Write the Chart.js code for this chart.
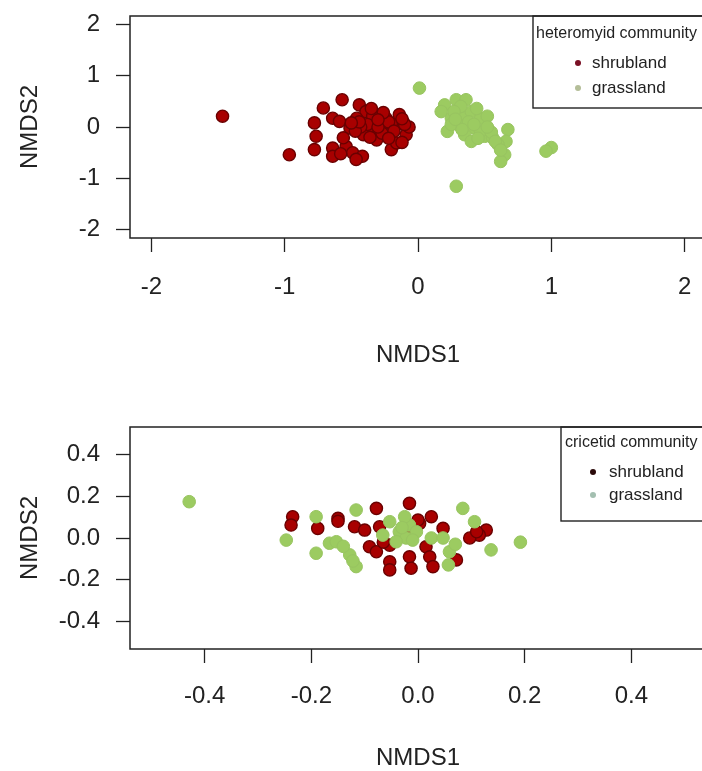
<!DOCTYPE html>
<html><head><meta charset="utf-8">
<script src="https://cdn.jsdelivr.net/npm/chart.js@4"></script>
<style>
html,body{margin:0;padding:0;background:#fff;overflow:hidden;width:702px;height:771px}
#wrap{position:relative;width:702px;height:771px;overflow:hidden;background:#fff}
canvas{position:absolute;left:0}
#c1{top:0}
#c2{top:395px}
</style></head>
<body><div id="wrap"><canvas id="c1" width="720" height="390"></canvas><canvas id="c2" width="720" height="380"></canvas></div>
<script>
// ---- Data: heteromyid community (top panel) ----
const hetShrubX = [-1.466,-0.965,-0.777,-0.764,-0.777,-0.71,-0.569,-0.64,-0.64,-0.539,-0.49,-0.417,-0.464,-0.64,-0.589,-0.44,-0.114,-0.089,-0.20,-0.16,-0.34,-0.29,-0.39,-0.24,-0.14,-0.51,-0.46,-0.41,-0.34,-0.24,-0.16,-0.56,-0.31,-0.067,-0.12,-0.38,-0.43,-0.27,-0.20,-0.35,-0.47,-0.58,-0.10,-0.30,-0.22,-0.18,-0.36,-0.44,-0.26,-0.12,-0.30,-0.22,-0.50];
const hetShrubY = [0.21,-0.54,0.08,-0.18,-0.44,0.37,0.53,-0.41,-0.57,-0.38,-0.50,-0.57,-0.63,0.17,0.11,0.43,0.11,-0.15,-0.44,-0.31,-0.085,0.08,0.30,-0.02,0.24,-0.02,0.17,-0.15,0.21,0.17,0.04,-0.21,-0.25,0.0,-0.30,0.05,0.0,-0.12,0.06,0.36,-0.08,-0.52,0.05,0.0,0.10,-0.08,-0.20,0.10,0.28,0.16,0.14,-0.22,0.08];
const hetGrassX = [0.011,0.287,1.0,0.96,0.674,0.66,0.65,0.62,0.20,0.287,0.36,0.174,0.25,0.22,0.336,0.40,0.47,0.52,0.424,0.35,0.40,0.50,0.56,0.60,0.30,0.47,0.32,0.27,0.38,0.44,0.55,0.25,0.42,0.33,0.52,0.28,0.45,0.58,0.62];
const hetGrassY = [0.757,-1.153,-0.40,-0.47,-0.05,-0.28,-0.54,-0.67,0.43,0.53,0.53,0.30,0.17,-0.085,0.24,0.30,0.17,0.21,-0.02,-0.15,-0.28,-0.18,-0.21,-0.34,0.045,-0.085,0.40,0.30,0.10,0.36,-0.10,0.05,0.05,-0.05,0.0,0.15,-0.22,-0.28,-0.45];
const topTicks = [-2,-1,0,1,2];
const topTickLabels = ['-2','-1','0','1','2'];

// ---- Data: cricetid community (bottom panel) ----
const criShrubX = [-0.235,-0.238,-0.188,-0.150,-0.150,-0.078,-0.016,0.128,0.115,0.097,0.025,0.003,0.047,-0.119,-0.100,-0.091,-0.078,-0.053,-0.053,-0.053,-0.016,-0.013,0.015,0.022,0.028,0.072,-0.072,-0.012,0.0,-0.065,0.11];
const criShrubY = [0.102,0.062,0.046,0.094,0.080,0.142,0.166,0.038,0.014,0.0,0.102,0.070,0.046,0.054,0.038,-0.042,-0.066,-0.034,-0.114,-0.153,-0.090,-0.145,-0.042,-0.090,-0.137,-0.105,0.054,0.02,0.086,-0.02,0.03];
const criGrassX = [-0.429,-0.247,-0.191,-0.191,-0.166,-0.116,0.084,0.106,0.137,-0.153,-0.128,-0.116,-0.122,0.059,0.057,-0.053,-0.035,-0.022,-0.041,-0.016,-0.066,-0.003,-0.025,0.025,0.047,0.192,-0.14,-0.03,-0.01,0.07];
const criGrassY = [0.174,-0.01,0.102,-0.073,-0.025,0.134,0.142,0.078,-0.057,-0.018,-0.081,-0.137,-0.11,-0.066,-0.129,0.078,0.030,0.0,-0.018,0.062,0.014,0.030,0.102,0.0,0.0,-0.02,-0.04,0.05,-0.01,-0.03];
const botTicks = [-0.4,-0.2,0,0.2,0.4];
const botTickLabels = ['-0.4','-0.2','0.0','0.2','0.4'];

const seriesNames = ['shrubland','grassland'];
const legendTitles = ['heteromyid community','cricetid community'];
const axisTitles = ['NMDS1','NMDS2'];

const FONT = "'Liberation Sans', Arial, sans-serif";
const INK = '#222';
const SHRUB_FILL = '#A80000', SHRUB_EDGE = '#6A0000';
const GRASS_FILL = '#9CCB61', GRASS_EDGE = '#98C460';

function pts(xs, ys){ return xs.map((x,i)=>({x:x, y:ys[i]})); }

function boxLegendPlugin(lg){
  return {
    id:'boxLegend',
    afterDraw(chart){
      const ctx = chart.ctx, a = chart.chartArea;
      ctx.save();
      ctx.fillStyle = '#fff';
      ctx.fillRect(lg.left, a.top, 720 - lg.left, lg.bottom - a.top);
      ctx.strokeStyle = INK; ctx.lineWidth = 1.4;
      ctx.strokeRect(lg.left, a.top, 720 - lg.left, lg.bottom - a.top);
      ctx.fillStyle = INK;
      ctx.textBaseline = 'middle'; ctx.textAlign = 'left';
      ctx.font = '16px ' + FONT;
      ctx.fillText(lg.title, lg.titleX, lg.titleY);
      ctx.font = '17px ' + FONT;
      lg.items.forEach(it=>{
        ctx.beginPath(); ctx.arc(lg.dotX, it.y, 3, 0, Math.PI*2);
        ctx.fillStyle = it.dot; ctx.fill();
        ctx.fillStyle = INK;
        ctx.fillText(it.label, lg.textX, it.y);
      });
      ctx.strokeStyle = INK; ctx.lineWidth = 1.5;
      ctx.strokeRect(a.left, a.top, a.right - a.left, a.bottom - a.top);
      ctx.restore();
    }
  };
}

function makeChart(id, o){
  const grid = {display:true, drawOnChartArea:false, drawTicks:true, tickLength:14, tickColor:INK, tickWidth:1.3};
  return new Chart(document.getElementById(id), {
    type:'scatter',
    data:{datasets:[
      {label:seriesNames[1], data:pts(o.gx,o.gy), backgroundColor:GRASS_FILL, borderColor:GRASS_EDGE, borderWidth:1, pointRadius:6.3},
      {label:seriesNames[0], data:pts(o.sx,o.sy), backgroundColor:SHRUB_FILL, borderColor:SHRUB_EDGE, borderWidth:1.4, pointRadius:6.1}
    ]},
    options:{
      responsive:false, animation:false, devicePixelRatio:1, events:[],
      layout:{padding:{left:0, top:o.top, right:14, bottom:0}},
      plugins:{legend:{display:false}, tooltip:{enabled:false}},
      scales:{
        x:{type:'linear', position:'bottom', min:-o.xr, max:o.xr,
          afterBuildTicks:s=>{ s.ticks = o.ticks.map(v=>({value:v})); },
          afterFit:s=>{ s.height = o.xh; s.paddingLeft = 0; s.paddingRight = 0; },
          ticks:{callback:(v,i)=>o.labels[i], font:{family:FONT,size:24}, color:INK, padding:o.xpad, maxRotation:0, autoSkip:false},
          grid:grid, border:{display:false},
          title:{display:true, text:axisTitles[0], font:{family:FONT,size:24}, color:INK, padding:{top:0,bottom:o.xtb}}
        },
        y:{type:'linear', position:'left', min:-o.yr, max:o.yr,
          afterBuildTicks:s=>{ s.ticks = o.yticks.map(v=>({value:v})); },
          afterFit:s=>{ s.width = 130; s.paddingTop = 0; s.paddingBottom = 0; },
          ticks:{callback:(v,i)=>o.ylabels[i], font:{family:FONT,size:24}, color:INK, padding:16, autoSkip:false},
          grid:grid, border:{display:false},
          title:{display:true, text:axisTitles[1], font:{family:FONT,size:24}, color:INK, padding:{top:15.6,bottom:0}}
        }
      }
    },
    plugins:[boxLegendPlugin(o.legend)]
  });
}

makeChart('c1', {
  gx:hetGrassX, gy:hetGrassY, sx:hetShrubX, sy:hetShrubY,
  top:16, xh:152, xpad:21, xtb:20, xr:2.16, yr:2.16,
  ticks:topTicks, labels:topTickLabels, yticks:topTicks, ylabels:topTickLabels,
  legend:{left:533, bottom:108, title:legendTitles[0], titleX:536, titleY:34, dotX:578, textX:592,
    items:[{label:seriesNames[0], y:63, dot:'#7A1025'},{label:seriesNames[1], y:88, dot:'#B4BE98'}]}
});
makeChart('c2', {
  gx:criGrassX, gy:criGrassY, sx:criShrubX, sy:criShrubY,
  top:32, xh:126, xpad:19, xtb:2.6, xr:0.54, yr:0.532,
  ticks:botTicks, labels:botTickLabels, yticks:botTicks, ylabels:botTickLabels,
  legend:{left:561, bottom:126, title:legendTitles[1], titleX:565, titleY:48, dotX:593, textX:609,
    items:[{label:seriesNames[0], y:77, dot:'#2B0A0A'},{label:seriesNames[1], y:100, dot:'#A3BFB0'}]}
});
</script>
</body></html>
